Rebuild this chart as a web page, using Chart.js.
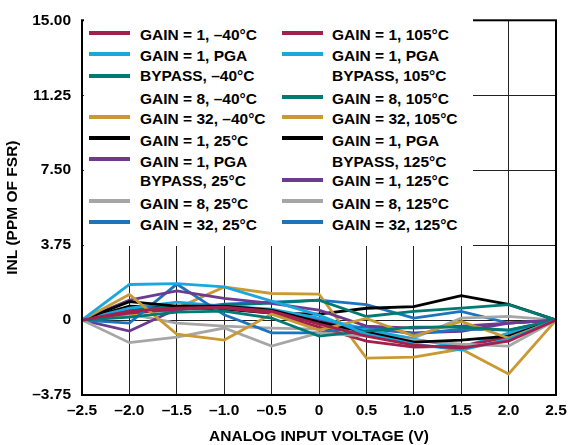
<!DOCTYPE html>
<html>
<head>
<meta charset="utf-8">
<script src="https://cdn.jsdelivr.net/npm/chart.js@4/dist/chart.umd.min.js"></script>
<style>
  html, body { margin: 0; padding: 0; background: #fff; }
  #wrap { position: relative; width: 577px; height: 445px; overflow: hidden; }
  #legend { position: absolute; left: 84px; top: 19px; width: 389px; height: 227px; background: #fff; }
  .sw { position: absolute; height: 4px; width: 41px; }
  .lt { position: absolute; font-family: 'Liberation Sans', Arial, sans-serif; font-weight: bold; font-size: 15.5px; line-height: 16px; color: #000; white-space: nowrap; }
</style>
</head>
<body>
<div id="wrap">
  <canvas id="c" width="577" height="445"></canvas>
  <div id="legend"></div>
</div>
<script>
// ---- data ----
const xValues = [-2.5, -2.0, -1.5, -1.0, -0.5, 0, 0.5, 1.0, 1.5, 2.0, 2.5];
const xTickLabels = ['–2.5', '–2.0', '–1.5', '–1.0', '–0.5', '0', '0.5', '1.0', '1.5', '2.0', '2.5'];
const yTickLabels = ['–3.75', '0', '3.75', '7.50', '11.25', '15.00'];

const gain1_m40      = [0, 0.45, 0.60, 0.65, 0.45, -0.20, -0.80, -1.25, -1.40, -1.05, 0];
const gain1pga_m40   = [0, 1.78, 1.82, 1.66, 0.95, 0.25, -0.70, -1.20, -1.50, -0.95, 0];
const gain8_m40      = [0, 0.15, 0.40, 0.45, 0.10, -0.80, -0.55, -0.35, -0.35, -0.50, 0];
const gain32_m40     = [0, 1.28, -0.70, -1.00, 0.30, -0.50, 0.08, -0.80, -0.07, -0.90, 0];
const gain1_25       = [0, 0.92, 0.70, 0.70, 0.50, -0.10, -0.60, -1.10, -1.00, -0.80, 0];
const gain1pga_25    = [0, 1.00, 1.46, 1.09, 0.84, 0.50, -0.30, -0.40, -0.30, -0.15, 0];
const gain8_25       = [0, -1.13, -0.85, -0.40, -1.30, -0.64, -0.80, -1.00, -1.20, -1.30, 0];
const gain32_25      = [0, -0.15, 1.80, 0.26, -0.64, -0.64, -0.30, -0.70, -0.45, -0.50, 0];
const gain1_105      = [0, 0.35, 0.55, 0.60, 0.35, -0.35, -1.05, -1.35, -1.30, -0.85, 0];
const gain1pga_105   = [0, 0.60, 0.90, 0.70, 0.55, 0.10, -0.45, -0.95, -1.35, -0.65, 0];
const gain8_105      = [0, 0.50, 0.70, 0.75, 0.85, 1.00, 0.18, 0.43, 0.60, 0.77, 0];
const gain32_105     = [0, 0.30, 0.59, 1.66, 1.33, 1.30, -1.90, -1.85, -1.45, -2.70, 0];
const gain1pga_125   = [0, 0.70, 0.60, 0.55, 0.35, 0.30, 0.59, 0.67, 1.22, 0.79, 0];
const gain1_125      = [0, -0.55, 0.55, 0.70, 0.50, 0.00, -0.45, -0.64, -0.56, -0.15, 0];
const gain8_125      = [0, 0.30, -0.15, -0.30, -0.40, -0.45, -0.60, -0.90, 0.10, 0.18, 0];
const gain32_125     = [0, 0.40, 0.50, 0.80, 0.90, 1.00, 0.77, 0.10, 0.43, -0.15, 0];

const seriesNames = [
  'GAIN = 1, –40°C', 'GAIN = 1, PGA BYPASS, –40°C', 'GAIN = 8, –40°C', 'GAIN = 32, –40°C',
  'GAIN = 1, 25°C', 'GAIN = 1, PGA BYPASS, 25°C', 'GAIN = 8, 25°C', 'GAIN = 32, 25°C',
  'GAIN = 1, 105°C', 'GAIN = 1, PGA BYPASS, 105°C', 'GAIN = 8, 105°C', 'GAIN = 32, 105°C',
  'GAIN = 1, PGA BYPASS, 125°C', 'GAIN = 1, 125°C', 'GAIN = 8, 125°C', 'GAIN = 32, 125°C'
];
const seriesValues = [
  gain1_m40, gain1pga_m40, gain8_m40, gain32_m40,
  gain1_25, gain1pga_25, gain8_25, gain32_25,
  gain1_105, gain1pga_105, gain8_105, gain32_105,
  gain1pga_125, gain1_125, gain8_125, gain32_125
];

// ---- style ----
const CRIMSON = '#A3204C', CYAN = '#1AA7DE', TEAL = '#007A72', GOLD = '#C99A33',
      BLACK = '#000000', PURPLE = '#6C3A8E', GRAY = '#A6A6A6', BLUE = '#1B74BC';
const seriesColors = [
  CRIMSON, CYAN, TEAL, GOLD, BLACK, PURPLE, GRAY, BLUE,
  CRIMSON, CYAN, TEAL, GOLD, BLACK, PURPLE, GRAY, BLUE
];

// legend layout (text lines; swatch = dataset index or null)
const legendLeft = [
  [0, 'GAIN = 1, –40°C'], [1, 'GAIN = 1, PGA'], [2, 'BYPASS, –40°C'], [null, 'GAIN = 8, –40°C'],
  [3, 'GAIN = 32, –40°C'], [4, 'GAIN = 1, 25°C'], [5, 'GAIN = 1, PGA'], [null, 'BYPASS, 25°C'],
  [6, 'GAIN = 8, 25°C'], [7, 'GAIN = 32, 25°C']
];
const legendRight = [
  [8, 'GAIN = 1, 105°C'], [9, 'GAIN = 1, PGA'], [null, 'BYPASS, 105°C'], [10, 'GAIN = 8, 105°C'],
  [11, 'GAIN = 32, 105°C'], [12, 'GAIN = 1, PGA'], [null, 'BYPASS, 125°C'], [13, 'GAIN = 1, 125°C'],
  [14, 'GAIN = 8, 125°C'], [15, 'GAIN = 32, 125°C']
];
const rowTextY = [35, 56, 76, 99, 119, 141, 162, 181, 204, 225];
const rowSwY   = [33, 54, 76, 97, 117, 138, 159, 180, 201, 222];

Chart.defaults.font.family = "'Liberation Sans', Arial, sans-serif";
Chart.defaults.font.weight = 'bold';
Chart.defaults.font.size = 15.5;
Chart.defaults.color = '#000';

const datasets = seriesNames.map((name, i) => ({
  label: name,
  data: xValues.map((x, k) => ({ x: x, y: seriesValues[i][k] })),
  borderColor: seriesColors[i],
  backgroundColor: seriesColors[i],
  borderWidth: 2.8,
  pointRadius: 0,
  tension: 0,
  fill: false
}));

const framePlugin = {
  id: 'frame',
  afterDraw(chart) {
    const a = chart.chartArea, ctx = chart.ctx;
    ctx.save();
    ctx.strokeStyle = '#000';
    ctx.lineWidth = 2;
    ctx.strokeRect(a.left, a.top, a.right - a.left, a.bottom - a.top);
    ctx.restore();
  }
};

const chart = new Chart(document.getElementById('c'), {
  type: 'line',
  data: { datasets },
  options: {
    responsive: false,
    animation: false,
    layout: { padding: { left: 0, right: 21, top: 15, bottom: 0 } },
    plugins: { legend: { display: false }, tooltip: { enabled: false } },
    scales: {
      x: {
        type: 'linear', min: -2.5, max: 2.5,
        afterFit(s) { s.height = 50; },
        ticks: { stepSize: 0.5, padding: 6, maxRotation: 0, autoSkip: false,
          callback: (v) => { const i = Math.round((v + 2.5) / 0.5); return xTickLabels[i]; } },
        grid: { color: '#222', lineWidth: 1, drawTicks: false },
        border: { display: false },
        title: { display: true, text: 'ANALOG INPUT VOLTAGE (V)', padding: { top: 0, bottom: -1 } }
      },
      y: {
        type: 'linear', min: -3.75, max: 15,
        afterFit(s) { s.width = 82; },
        ticks: { stepSize: 3.75, padding: 11,
          callback: (v) => { const i = Math.round((v + 3.75) / 3.75); return yTickLabels[i]; } },
        grid: { color: '#222', lineWidth: 1, drawTicks: false },
        border: { display: false },
        title: { display: true, text: 'INL (PPM OF FSR)', padding: { top: 3, bottom: 0 } }
      }
    }
  },
  plugins: [framePlugin]
});

// HTML legend built from dataset colours
const legendEl = document.getElementById('legend');
const ox = 84, oy = 19;
function buildColumn(rows, swX, txtX) {
  rows.forEach(([ds, text], r) => {
    if (ds !== null) {
      const s = document.createElement('div');
      s.className = 'sw';
      s.style.left = (swX - ox) + 'px';
      s.style.top = (rowSwY[r] - 2 - oy) + 'px';
      s.style.background = chart.data.datasets[ds].borderColor;
      legendEl.appendChild(s);
    }
    const t = document.createElement('div');
    t.className = 'lt';
    t.textContent = text;
    t.style.left = (txtX - ox) + 'px';
    t.style.top = (rowTextY[r] - 8 - oy) + 'px';
    legendEl.appendChild(t);
  });
}
buildColumn(legendLeft, 89, 140);
buildColumn(legendRight, 282, 332);
</script>
</body>
</html>
